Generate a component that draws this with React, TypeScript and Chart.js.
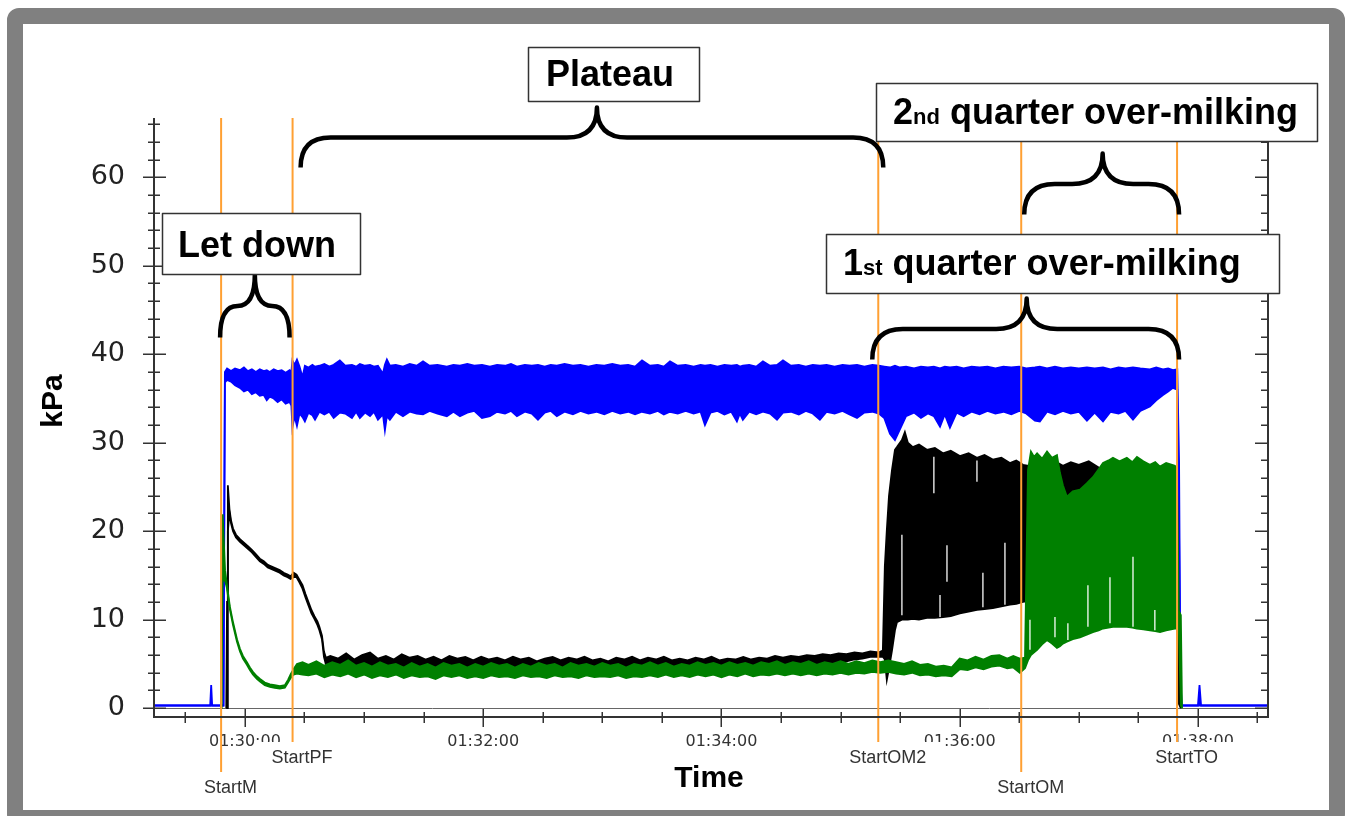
import React, { useEffect, useRef } from 'react';
import { Chart, registerables } from 'chart.js';

Chart.register(...registerables);

// ---------- axis ranges (time in seconds since midnight) ----------
const X_MIN = 5354.2;
const X_MAX = 5915.3;
const Y_MIN = -1;
const Y_MAX = 66.7;

const X_TICK_TIMES = [5400, 5520, 5640, 5760, 5880];
const X_TICK_LABELS = ['01:30:00', '01:32:00', '01:34:00', '01:36:00', '01:38:00'];
const X_MINOR_STEP = 30;
const Y_TICKS = [0, 10, 20, 30, 40, 50, 60];
const Y_MINOR_STEP = 2;

// ---------- event markers ----------
const MARKER_TIMES = [5388, 5424, 5719, 5791, 5869.5];
const MARKER_LABELS = ['StartM', 'StartPF', 'StartOM2', 'StartOM', 'StartTO'];
const MARKER_ROWS = [1, 0, 0, 1, 0];

// ---------- series: [time, upper envelope kPa, lower envelope kPa] ----------
const VACUUM: number[][] = [
  [5354.2, 0.3, 0.3], [5382.5, 0.3, 0.3], [5383.0, 2.6, 0.3], [5383.5, 0.3, 0.3],
  [5389.2, 0.3, 0.3], [5389.9, 38.0, 36.8], [5391.0, 38.4, 37.1], [5393.0, 38.1, 36.9],
  [5395.0, 38.4, 36.5], [5397.5, 38.2, 36.2], [5399.5, 38.5, 35.8], [5401.5, 38.1, 36.0],
  [5403.5, 38.3, 35.5], [5405.5, 38.0, 35.7], [5407.5, 38.3, 35.3], [5409.5, 38.1, 35.4],
  [5411.0, 38.2, 34.8], [5412.5, 38.0, 35.2], [5414.5, 38.3, 35.0], [5416.5, 38.1, 34.6],
  [5418.5, 38.2, 34.9], [5420.5, 37.9, 34.4], [5422.5, 38.2, 34.6], [5423.4, 38.0, 34.2],
  [5423.9, 39.3, 31.7], [5425.0, 38.8, 33.0], [5426.2, 39.4, 31.9], [5427.5, 38.6, 33.3],
  [5429.0, 37.4, 32.9], [5430.2, 38.7, 32.4], [5432.0, 38.5, 33.4], [5434.0, 38.8, 33.1],
  [5435.3, 38.6, 32.6], [5437.5, 38.7, 33.5], [5440.0, 38.9, 33.2], [5442.5, 38.6, 33.5],
  [5444.7, 38.8, 32.8], [5447.8, 39.3, 33.4], [5450.5, 38.7, 33.3], [5453.9, 38.8, 32.8],
  [5456.0, 38.6, 33.5], [5457.9, 38.9, 32.8], [5460.5, 38.7, 33.4], [5463.0, 38.8, 33.0],
  [5465.0, 38.6, 33.5], [5467.0, 38.7, 32.6], [5469.5, 37.8, 33.2], [5470.5, 38.8, 31.4],
  [5471.5, 39.4, 33.0], [5473.0, 38.7, 32.6], [5476.0, 38.8, 33.5], [5479.6, 38.6, 33.0],
  [5483.0, 38.9, 33.5], [5486.5, 38.7, 33.3], [5489.7, 39.2, 33.2], [5493.0, 38.7, 33.6],
  [5497.0, 38.8, 33.3], [5501.7, 38.6, 33.0], [5505.0, 38.8, 33.5], [5508.3, 38.7, 33.0],
  [5512.0, 38.9, 33.4], [5515.5, 38.7, 33.6], [5519.4, 38.8, 32.8], [5523.4, 38.6, 33.0],
  [5527.0, 38.8, 33.5], [5531.0, 38.7, 33.3], [5534.0, 38.9, 33.6], [5537.0, 38.6, 33.0],
  [5541.0, 38.8, 33.5], [5544.5, 38.7, 33.3], [5547.6, 38.8, 32.6], [5551.0, 38.6, 33.4],
  [5554.0, 38.8, 33.6], [5557.1, 38.7, 33.0], [5561.0, 38.9, 33.5], [5565.2, 38.7, 33.2],
  [5569.0, 38.8, 33.6], [5573.0, 38.6, 33.3], [5577.0, 38.8, 33.5], [5581.0, 38.7, 33.2],
  [5585.0, 38.9, 33.6], [5589.0, 38.7, 33.3], [5593.0, 38.8, 33.5], [5596.5, 38.6, 33.2],
  [5600.0, 39.3, 33.5], [5604.0, 38.7, 33.3], [5608.0, 38.8, 33.6], [5611.0, 38.6, 33.2],
  [5614.1, 39.2, 33.5], [5618.0, 38.7, 33.3], [5622.0, 38.8, 33.6], [5626.0, 38.6, 33.3],
  [5629.5, 38.8, 33.5], [5631.7, 38.7, 32.0], [5634.5, 38.8, 33.4], [5638.0, 38.6, 33.6],
  [5641.5, 38.8, 33.2], [5645.0, 38.7, 33.5], [5647.8, 38.8, 32.4], [5649.3, 38.6, 33.3],
  [5650.8, 38.7, 32.6], [5654.0, 38.8, 33.5], [5657.5, 38.6, 33.2], [5660.9, 39.2, 33.5],
  [5664.5, 38.7, 33.3], [5668.0, 38.8, 32.6], [5671.0, 39.3, 33.4], [5675.0, 38.7, 33.5],
  [5679.0, 38.8, 33.2], [5682.5, 38.6, 33.6], [5686.0, 38.8, 33.3], [5689.6, 38.7, 32.6],
  [5693.0, 38.8, 33.5], [5697.0, 38.6, 33.3], [5701.0, 38.8, 33.6], [5704.5, 38.7, 33.2],
  [5708.3, 38.8, 32.8], [5712.0, 38.6, 33.4], [5716.0, 38.8, 33.5], [5719.3, 38.7, 33.3],
  [5722.0, 38.6, 32.8], [5724.9, 38.5, 31.0], [5727.4, 38.7, 30.3], [5729.9, 38.5, 31.5],
  [5733.0, 38.6, 33.0], [5737.0, 38.4, 33.4], [5740.5, 38.6, 32.8], [5744.0, 38.5, 33.3],
  [5747.0, 38.6, 33.0], [5750.1, 38.4, 31.8], [5752.5, 38.6, 33.2], [5755.1, 38.5, 31.7],
  [5758.5, 38.6, 33.4], [5762.0, 38.4, 33.0], [5766.0, 38.6, 33.5], [5770.0, 38.5, 33.2],
  [5774.0, 38.6, 33.6], [5778.0, 38.4, 33.3], [5782.0, 38.6, 33.5], [5786.0, 38.5, 33.2],
  [5790.0, 38.6, 33.6], [5793.5, 38.4, 33.3], [5797.9, 38.5, 32.5], [5800.4, 38.6, 32.4],
  [5804.0, 38.4, 33.5], [5808.0, 38.6, 33.2], [5812.0, 38.4, 33.6], [5816.0, 38.5, 33.3],
  [5820.0, 38.4, 33.5], [5824.1, 38.5, 32.5], [5828.0, 38.4, 33.4], [5832.2, 38.5, 32.4],
  [5836.0, 38.3, 33.5], [5840.0, 38.5, 33.3], [5843.5, 38.4, 33.6], [5847.3, 38.5, 32.6],
  [5851.0, 38.4, 33.6], [5855.8, 38.3, 34.1], [5859.0, 38.5, 34.8], [5862.4, 38.3, 35.4],
  [5865.0, 38.4, 35.8], [5867.4, 38.2, 36.2], [5869.6, 38.3, 36.0], [5870.5, 28.0, 20.0],
  [5871.2, 3.0, 0.3], [5871.9, 0.3, 0.3], [5880.0, 0.3, 0.3], [5880.8, 2.6, 0.3],
  [5881.6, 0.3, 0.3], [5915.3, 0.3, 0.3],
];

const QUARTER_BLACK: number[][] = [
  [5390.6, 0, 0], [5391.0, 12, 0], [5391.4, 25.2, 20],
  [5392.2, 22.5, 22.1], [5393.0, 21.2, 20.9], [5394.0, 20.3, 20.0], [5395.5, 19.6, 19.3],
  [5397.5, 19.1, 18.8], [5399.5, 18.7, 18.4], [5401.5, 18.3, 18.0], [5403.5, 17.9, 17.6],
  [5405.5, 17.4, 17.1], [5407.5, 16.9, 16.6], [5409.5, 16.6, 16.3], [5411.5, 16.2, 15.9],
  [5413.5, 16.0, 15.7], [5415.5, 15.8, 15.5], [5417.5, 15.6, 15.3], [5419.5, 15.3, 15.0],
  [5421.5, 15.1, 14.8], [5423.0, 14.9, 14.6], [5424.5, 15.3, 14.8], [5426.0, 15.1, 14.8],
  [5427.5, 14.5, 14.2], [5429.0, 13.9, 13.5], [5430.5, 12.9, 12.5], [5432.0, 12.0, 11.6],
  [5433.5, 11.1, 10.7], [5435.0, 10.4, 10.1], [5436.5, 9.8, 9.4], [5437.5, 9.2, 8.8],
  [5438.8, 8.2, 7.8], [5439.8, 6.4, 5.8], [5440.8, 5.7, 4.9], [5443.0, 5.9, 4.6],
  [5447, 5.6, 4.5], [5451, 6.2, 4.7], [5455, 5.5, 4.4], [5459, 6.0, 4.6],
  [5463, 6.3, 4.8], [5467, 5.6, 4.5], [5471, 5.9, 4.6], [5475, 5.5, 4.4],
  [5479, 6.1, 4.7], [5483, 5.7, 4.5], [5487, 5.9, 4.6], [5491, 5.5, 4.3],
  [5495, 5.8, 4.6], [5499, 5.4, 4.4], [5503, 5.9, 4.6], [5507, 5.6, 4.4],
  [5511, 5.8, 4.5], [5515, 5.4, 4.3], [5519, 5.8, 4.6], [5523, 5.5, 4.4],
  [5527, 5.7, 4.5], [5531, 5.4, 4.3], [5535, 5.8, 4.6], [5539, 5.5, 4.4],
  [5543, 5.7, 4.5], [5547, 5.3, 4.3], [5551, 5.6, 4.4], [5555, 5.8, 4.6],
  [5559, 5.4, 4.3], [5563, 5.7, 4.5], [5567, 5.5, 4.4], [5571, 5.8, 4.6],
  [5575, 5.4, 4.3], [5579, 5.6, 4.5], [5583, 5.3, 4.2], [5587, 5.7, 4.5],
  [5591, 5.5, 4.4], [5595, 5.8, 4.6], [5599, 5.4, 4.3], [5603, 5.7, 4.5],
  [5607, 5.5, 4.4], [5611, 5.8, 4.6], [5615, 5.4, 4.3], [5619, 5.6, 4.5],
  [5623, 5.4, 4.3], [5627, 5.7, 4.5], [5631, 5.5, 4.4], [5635, 5.8, 4.6],
  [5639, 5.4, 4.3], [5643, 5.6, 4.5], [5647, 5.5, 4.4], [5651, 5.8, 4.6],
  [5655, 5.5, 4.5], [5659, 5.7, 4.6], [5663, 5.6, 4.5], [5667, 5.9, 4.7],
  [5671, 5.7, 4.6], [5675, 5.9, 4.8], [5679, 5.8, 4.7], [5683, 6.0, 4.9],
  [5687, 5.9, 4.8], [5691, 6.1, 5.0], [5695, 6.0, 5.0], [5699, 6.2, 5.2],
  [5703, 6.1, 5.3], [5707, 6.3, 5.5], [5711, 6.2, 5.6], [5715, 6.4, 5.8],
  [5719.3, 6.3, 5.8], [5721.3, 6.5, 5.8], [5722.3, 16.0, 5.5], [5723.3, 20.1, 3.2],
  [5724.4, 24.0, 4.5], [5725.9, 26.9, 6.5], [5727.4, 29.2, 8.8], [5728.4, 29.5, 9.7],
  [5730.9, 30.3, 10.0], [5732.4, 31.2, 10.0], [5733.9, 30.0, 10.0], [5736.4, 29.5, 10.1],
  [5739.5, 29.8, 10.0], [5743.5, 29.2, 10.2], [5747.5, 29.4, 10.2], [5751.6, 28.8, 10.3],
  [5755.5, 29.1, 10.4], [5760.1, 28.5, 10.7], [5764.5, 28.8, 10.9], [5768.7, 28.3, 11.1],
  [5772.5, 28.6, 11.2], [5776.7, 28.1, 11.3], [5781.0, 28.3, 11.5], [5785.3, 27.7, 11.7],
  [5788.5, 28.0, 11.8], [5791.9, 27.5, 12.0], [5796.9, 27.3, 12.2], [5803.0, 27.6, 12.4],
  [5808.0, 27.9, 12.5], [5812.0, 27.4, 12.6], [5816.0, 27.8, 12.7], [5820.0, 27.5, 12.8],
  [5825.0, 27.9, 12.8], [5830.6, 27.1, 12.8], [5838.0, 27.3, 12.7], [5845.7, 27.0, 12.7],
  [5853.0, 27.2, 12.6], [5860.9, 26.8, 12.6], [5869.4, 26.8, 12.5], [5870.4, 6.0, 0.5],
  [5871.4, 0, 0],
];

const QUARTER_GREEN: number[][] = [
  [5388.0, 0, 0], [5388.3, 21.8, 0], [5388.8, 21.8, 14.5],
  [5390.0, 15.6, 14.4], [5390.9, 14.0, 13.6], [5392.4, 11.5, 11.2], [5394.0, 9.7, 9.4],
  [5396.0, 7.8, 7.5], [5397.5, 6.7, 6.4], [5399.0, 5.9, 5.6], [5401.0, 5.2, 4.9],
  [5402.5, 4.6, 4.3], [5404.0, 4.1, 3.8], [5406.0, 3.6, 3.3], [5407.6, 3.3, 3.0],
  [5410.0, 2.9, 2.6], [5412.6, 2.7, 2.4], [5415.0, 2.6, 2.3], [5417.6, 2.5, 2.2],
  [5420.1, 2.6, 2.3], [5421.7, 3.2, 2.9], [5423.0, 3.8, 3.4], [5424.5, 4.4, 3.8],
  [5426.2, 5.0, 3.9], [5429.0, 5.2, 3.8], [5432, 4.9, 3.7], [5436, 5.3, 3.9],
  [5440, 4.8, 3.5], [5444, 5.2, 3.8], [5448, 4.9, 3.6], [5452, 5.4, 3.9],
  [5456, 4.8, 3.5], [5460, 5.1, 3.8], [5464, 4.7, 3.4], [5468, 5.2, 3.7],
  [5472, 4.8, 3.5], [5476, 5.0, 3.8], [5480, 4.6, 3.4], [5484, 5.1, 3.7],
  [5488, 4.7, 3.5], [5492, 5.0, 3.6], [5496, 4.6, 3.3], [5500, 5.1, 3.7],
  [5504, 4.8, 3.5], [5508, 5.0, 3.7], [5512, 4.6, 3.4], [5516, 5.0, 3.6],
  [5520, 4.7, 3.4], [5524, 5.1, 3.7], [5528, 4.8, 3.5], [5532, 5.0, 3.6],
  [5536, 4.6, 3.4], [5540, 5.0, 3.7], [5544, 4.7, 3.5], [5548, 5.1, 3.6],
  [5552, 4.8, 3.4], [5556, 5.0, 3.7], [5560, 4.6, 3.5], [5564, 5.1, 3.6],
  [5568, 4.8, 3.4], [5572, 5.0, 3.7], [5576, 4.7, 3.5], [5580, 5.1, 3.6],
  [5584, 4.8, 3.5], [5588, 5.0, 3.7], [5592, 4.6, 3.4], [5596, 5.0, 3.6],
  [5600, 4.8, 3.5], [5604, 5.2, 3.7], [5608, 4.8, 3.5], [5612, 5.1, 3.8],
  [5616, 4.7, 3.5], [5620, 5.0, 3.7], [5624, 4.8, 3.5], [5628, 5.2, 3.8],
  [5632, 4.9, 3.6], [5636, 5.1, 3.8], [5640, 4.8, 3.5], [5644, 5.2, 3.8],
  [5648, 4.9, 3.6], [5652, 5.1, 3.9], [5656, 4.8, 3.6], [5660, 5.2, 3.8],
  [5664, 5.0, 3.7], [5668, 5.3, 3.9], [5672, 4.9, 3.7], [5676, 5.2, 3.9],
  [5680, 5.0, 3.7], [5684, 5.3, 3.9], [5688, 4.9, 3.7], [5692, 5.2, 3.9],
  [5696, 5.0, 3.8], [5700, 5.3, 4.0], [5704, 5.0, 3.8], [5708, 5.3, 4.0],
  [5712, 5.1, 3.9], [5716, 5.4, 4.1], [5720, 5.2, 4.0], [5724, 5.4, 4.1],
  [5728, 5.2, 3.9], [5732, 5.0, 3.8], [5736, 5.3, 4.0], [5740, 4.9, 3.7],
  [5744, 5.0, 3.8], [5748, 4.7, 3.6], [5752, 4.8, 3.7], [5756, 4.6, 3.6],
  [5760, 5.6, 4.4], [5764, 5.4, 4.3], [5768, 5.8, 4.6], [5772, 5.5, 4.4],
  [5776, 5.9, 4.7], [5780, 6.0, 4.8], [5784, 5.6, 4.5], [5787, 5.9, 4.6],
  [5790.3, 5.6, 4.0], [5792.9, 5.7, 4.5], [5794.4, 26.9, 5.4], [5795.9, 29.0, 6.0],
  [5797.5, 28.4, 6.3], [5799.0, 28.8, 6.6], [5801.5, 28.2, 7.2], [5804.0, 29.0, 7.7],
  [5806.5, 28.3, 7.3], [5809.0, 28.6, 6.8], [5810.5, 26.6, 7.0], [5812.0, 25.2, 7.3],
  [5814.0, 23.9, 7.5], [5817.0, 24.5, 7.8], [5820.6, 24.7, 8.0], [5824.0, 25.4, 8.3],
  [5827.1, 26.1, 8.6], [5830.0, 27.0, 8.8], [5832.2, 27.7, 9.0], [5835.0, 28.0, 9.1],
  [5837.2, 28.3, 9.2], [5840.5, 27.9, 9.2], [5844.2, 28.3, 9.2], [5847.0, 27.8, 9.1],
  [5849.3, 28.4, 9.0], [5852.5, 27.9, 8.9], [5855.8, 27.5, 8.8], [5858.5, 27.8, 8.7],
  [5860.9, 27.3, 8.6], [5864.0, 27.7, 8.8], [5868.4, 27.4, 9.0], [5869.4, 27.0, 9.0],
  [5870.4, 11.0, 9.0], [5871.4, 10.5, 0.3], [5872.0, 0, 0],
];

// missing pulsation cycles (white streaks): [time, from kPa, to kPa]
const BLACK_GAPS: number[][] = [
  [5730.9, 10.5, 19.6], [5747.0, 24.3, 28.4], [5750.1, 10.3, 12.8], [5753.6, 14.3, 18.4],
  [5768.7, 25.6, 28.0], [5771.7, 11.4, 15.3], [5782.8, 11.7, 18.7],
];
const GREEN_GAPS: number[][] = [
  [5795.4, 6.6, 10.0], [5808.0, 8.0, 10.3], [5814.5, 7.7, 9.6], [5824.6, 9.2, 13.9],
  [5835.7, 9.6, 14.8], [5847.3, 9.2, 17.1], [5858.3, 8.8, 11.1],
];

// ---------- annotations ----------
const BRACES = [
  { from: 0, to: 1, dx0: -1, dx1: -3, dxc: 0, yEnd: 41.9, yPeak: 49.0 },
  { from: 1, to: 2, dx0: 8, dx1: 5, dxc: 5, yEnd: 61.1, yPeak: 67.9 },
  { from: 3, to: 4, dx0: 3, dx1: 2, dxc: 1, yEnd: 55.8, yPeak: 62.7 },
  { from: 2, to: 4, dx0: -6, dx1: 2, dxc: 1, yEnd: 39.4, yPeak: 46.3 },
];
const BOXES: { x: number; y: number; w: number; h: number; tx: number; ty: number; parts: [string, number][] }[] = [
  { x: 162, y: 213, w: 198, h: 61, tx: 178, ty: 257, parts: [['Let down', 36]] },
  { x: 528, y: 47, w: 171, h: 54, tx: 546, ty: 86, parts: [['Plateau', 36]] },
  { x: 876, y: 83, w: 441, h: 58, tx: 893, ty: 124, parts: [['2', 36], ['nd', 22], [' quarter over-milking', 36]] },
  { x: 826, y: 234, w: 453, h: 59, tx: 843, ty: 275, parts: [['1', 36], ['st', 22], [' quarter over-milking', 36]] },
];

const SANS = '"Liberation Sans", Arial, sans-serif';

function band(rows: number[][], color: string, order: number, name: string) {
  return [
    {
      label: name + ' upper',
      data: rows.map((r) => ({ x: r[0], y: r[1] })),
      borderColor: color,
      backgroundColor: color,
      borderWidth: 1.8,
      pointRadius: 0,
      tension: 0,
      fill: false,
      order,
    },
    {
      label: name + ' lower',
      data: rows.map((r) => ({ x: r[0], y: r[2] })),
      borderColor: color,
      backgroundColor: color,
      borderWidth: 1.8,
      pointRadius: 0,
      tension: 0,
      fill: '-1',
      order,
    },
  ];
}

function gaps(rows: number[][]) {
  const out: { x: number; y: number | null }[] = [];
  rows.forEach((g) => {
    out.push({ x: g[0], y: g[1] }, { x: g[0], y: g[2] }, { x: g[0], y: null });
  });
  return out;
}

function drawBrace(ctx: CanvasRenderingContext2D, x1: number, x2: number, xc: number, yEnd: number, yPeak: number) {
  const yMid = (yEnd + yPeak) / 2;
  const rx = Math.min((yEnd - yPeak) / 2, (x2 - x1) / 4);
  ctx.beginPath();
  ctx.moveTo(x1, yEnd);
  ctx.quadraticCurveTo(x1, yMid, x1 + rx, yMid);
  ctx.lineTo(xc - rx, yMid);
  ctx.quadraticCurveTo(xc, yMid, xc, yPeak);
  ctx.quadraticCurveTo(xc, yMid, xc + rx, yMid);
  ctx.lineTo(x2 - rx, yMid);
  ctx.quadraticCurveTo(x2, yMid, x2, yEnd);
  ctx.stroke();
}

const overlayPlugin = {
  id: 'overlay',
  afterDraw(chart: any) {
    const { ctx, chartArea: a } = chart;
    const xs = chart.scales.x;
    const ys = chart.scales.y;
    ctx.save();

    // orange event markers
    ctx.strokeStyle = '#FFA033';
    ctx.lineWidth = 2;
    MARKER_TIMES.forEach((t, i) => {
      const px = xs.getPixelForValue(t);
      const base = MARKER_ROWS[i] ? 793 : 763;
      ctx.beginPath();
      ctx.moveTo(px, a.top);
      ctx.lineTo(px, base - 16);
      ctx.stroke();
    });

    // axes frame (left, bottom, right)
    ctx.strokeStyle = '#333';
    ctx.lineWidth = 2;
    ctx.beginPath();
    ctx.moveTo(a.left, a.top);
    ctx.lineTo(a.left, a.bottom);
    ctx.lineTo(a.right, a.bottom);
    ctx.lineTo(a.right, a.top);
    ctx.stroke();

    // y ticks (both sides)
    ctx.lineWidth = 1.5;
    for (let k = 0; k * Y_MINOR_STEP <= Y_MAX; k++) {
      const v = k * Y_MINOR_STEP;
      const py = Math.round(ys.getPixelForValue(v)) + 0.25;
      const major = v % 10 === 0;
      ctx.beginPath();
      if (major) {
        ctx.moveTo(a.left - 11, py);
        ctx.lineTo(a.left + 12, py);
        ctx.moveTo(a.right - 13, py);
        ctx.lineTo(a.right, py);
      } else {
        ctx.moveTo(a.left - 6, py);
        ctx.lineTo(a.left + 6, py);
        ctx.moveTo(a.right - 7, py);
        ctx.lineTo(a.right, py);
      }
      ctx.stroke();
    }
    // x ticks
    const first = Math.ceil(X_MIN / X_MINOR_STEP) * X_MINOR_STEP;
    for (let t = first; t <= X_MAX; t += X_MINOR_STEP) {
      const px = Math.round(xs.getPixelForValue(t)) + 0.25;
      const major = X_TICK_TIMES.indexOf(t) >= 0;
      ctx.beginPath();
      ctx.moveTo(px, a.bottom - (major ? 8 : 5));
      ctx.lineTo(px, a.bottom + (major ? 10 : 6));
      ctx.stroke();
    }

    // marker labels
    ctx.font = '18px ' + SANS;
    ctx.textAlign = 'left';
    ctx.textBaseline = 'alphabetic';
    MARKER_TIMES.forEach((t, i) => {
      const px = xs.getPixelForValue(t) + 9.5;
      const base = MARKER_ROWS[i] ? 793 : 763;
      const w = ctx.measureText(MARKER_LABELS[i]).width;
      const left = px - w / 2;
      ctx.fillStyle = '#fff';
      ctx.fillRect(left - 17, base - 21, w + 34, 27);
      ctx.fillStyle = '#333';
      ctx.fillText(MARKER_LABELS[i], left, base);
    });

    // braces
    ctx.strokeStyle = '#000';
    ctx.lineWidth = 4.5;
    ctx.lineJoin = 'round';
    ctx.lineCap = 'butt';
    BRACES.forEach((b) => {
      const x1 = xs.getPixelForValue(MARKER_TIMES[b.from]) + b.dx0;
      const x2 = xs.getPixelForValue(MARKER_TIMES[b.to]) + b.dx1;
      const xc = (x1 + x2) / 2 + b.dxc;
      drawBrace(ctx, x1, x2, xc, ys.getPixelForValue(b.yEnd), ys.getPixelForValue(b.yPeak));
    });

    // label boxes
    BOXES.forEach((b) => {
      ctx.fillStyle = '#fff';
      ctx.fillRect(b.x, b.y, b.w, b.h);
      ctx.strokeStyle = '#333';
      ctx.lineWidth = 1.5;
      ctx.strokeRect(b.x + 0.5, b.y + 0.5, b.w, b.h);
      ctx.fillStyle = '#000';
      let cx = b.tx;
      b.parts.forEach(([txt, size]) => {
        ctx.font = 'bold ' + size + 'px ' + SANS;
        ctx.fillText(txt, cx, b.ty);
        cx += ctx.measureText(txt).width;
      });
    });

    // axis titles
    ctx.fillStyle = '#000';
    ctx.font = 'bold 30px ' + SANS;
    ctx.textAlign = 'center';
    ctx.fillText('Time', (a.left + a.right) / 2 - 2, 787);
    ctx.save();
    ctx.translate(62, 401);
    ctx.rotate(-Math.PI / 2);
    ctx.fillText('kPa', 0, 0);
    ctx.restore();

    ctx.restore();
  },
};

export default function App() {
  const ref = useRef<HTMLCanvasElement>(null);

  useEffect(() => {
    const canvas = ref.current;
    if (!canvas) return;
    const datasets: any[] = [
      ...band(VACUUM, '#0000FF', 3, 'Vacuum'),
      ...band(QUARTER_BLACK, '#000000', 2, 'Quarter 1'),
      ...band(QUARTER_GREEN, '#008000', 1, 'Quarter 2'),
      {
        label: 'gaps black',
        data: gaps(BLACK_GAPS),
        borderColor: 'rgba(255,255,255,0.85)',
        borderWidth: 1.5,
        pointRadius: 0,
        spanGaps: false,
        fill: false,
        order: 0,
      },
      {
        label: 'gaps green',
        data: gaps(GREEN_GAPS),
        borderColor: 'rgba(255,255,255,0.85)',
        borderWidth: 1.5,
        pointRadius: 0,
        spanGaps: false,
        fill: false,
        order: 0,
      },
    ];

    const chart = new Chart(canvas, {
      type: 'line',
      data: { datasets },
      options: {
        animation: false,
        responsive: false,
        devicePixelRatio: 1,
        events: [],
        layout: { padding: { left: 0, right: 84, top: 118, bottom: 0 } },
        plugins: { legend: { display: false }, tooltip: { enabled: false } },
        scales: {
          x: {
            type: 'linear',
            min: X_MIN,
            max: X_MAX,
            position: 'bottom',
            border: { display: false },
            grid: { display: false, drawTicks: false },
            afterBuildTicks: (s: any) => {
              s.ticks = X_TICK_TIMES.map((v) => ({ value: v }));
            },
            afterFit: (s: any) => {
              s.height = 99;
            },
            ticks: {
              autoSkip: false,
              maxRotation: 0,
              padding: 15,
              color: '#333',
              font: { family: '"DejaVu Sans", Verdana, sans-serif', size: 16 },
              callback: (v: any) => {
                const i = X_TICK_TIMES.indexOf(Number(v));
                return i >= 0 ? X_TICK_LABELS[i] : '';
              },
            },
          },
          y: {
            type: 'linear',
            min: Y_MIN,
            max: Y_MAX,
            position: 'left',
            border: { display: false },
            grid: {
              display: true,
              drawTicks: false,
              lineWidth: 1,
              color: (c: any) => (c.tick && c.tick.value === 0 ? '#666' : 'rgba(0,0,0,0)'),
            },
            afterBuildTicks: (s: any) => {
              s.ticks = Y_TICKS.map((v) => ({ value: v }));
            },
            afterFit: (s: any) => {
              s.width = 154;
            },
            ticks: {
              autoSkip: false,
              padding: 29,
              color: '#222',
              font: { family: '"DejaVu Sans", Verdana, sans-serif', size: 27 },
              callback: (v: any) => String(v),
            },
          },
        },
      } as any,
      plugins: [overlayPlugin],
    });
    return () => chart.destroy();
  }, []);

  return (
    <div style={{ position: 'fixed', left: 0, top: 0, width: 1352, height: 816, background: '#fff', overflow: 'hidden' }}>
      <div
        style={{
          position: 'absolute',
          left: 7,
          top: 8,
          width: 1338,
          height: 818,
          boxSizing: 'border-box',
          border: '16px solid #808080',
          borderRadius: 12,
          background: '#fff',
        }}
      />
      <canvas ref={ref} width={1352} height={816} style={{ position: 'absolute', left: 0, top: 0, width: 1352, height: 816 }} />
    </div>
  );
}
